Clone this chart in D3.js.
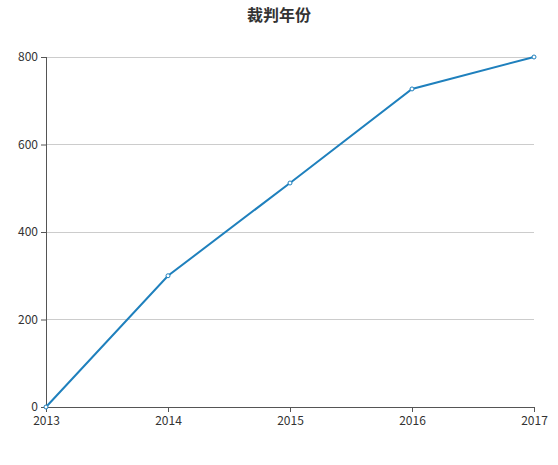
<!DOCTYPE html>
<html>
<head>
<meta charset="utf-8">
<script src="https://cdn.jsdelivr.net/npm/d3@7"></script>
<style>
  body { margin: 0; background: #fff; }
  text { font-family: "Noto Sans CJK SC", "DejaVu Sans", sans-serif; }
</style>
</head>
<body>
<div id="chart"></div>
<script>
// data
var years = ["2013", "2014", "2015", "2016", "2017"];
var counts = [0, 300, 512, 727, 800];
var yTicks = [0, 200, 400, 600, 800];

var width = 558, height = 465;
// plot area (note: "top" is reserved on window, so use plotTop)
var plotLeft = 46, plotRight = 534, plotTop = 57, plotBottom = 407;

var svg = d3.select("#chart").append("svg")
    .attr("width", width)
    .attr("height", height);

// title
svg.append("text")
    .attr("x", width / 2)
    .attr("y", 21)
    .attr("text-anchor", "middle")
    .attr("font-size", 16)
    .attr("font-weight", "bold")
    .attr("fill", "#333")
    .text("裁判年份");

var x = d3.scalePoint().domain(years).range([plotLeft, plotRight]);
var y = d3.scaleLinear().domain([0, 800]).range([plotBottom, plotTop]);

// grid lines
svg.append("g")
    .selectAll("line")
    .data(yTicks.slice(1))
    .enter().append("line")
    .attr("x1", plotLeft).attr("x2", plotRight)
    .attr("y1", function(d) { return y(d); })
    .attr("y2", function(d) { return y(d); })
    .attr("stroke", "#ccc")
    .attr("stroke-width", 1)
    .attr("shape-rendering", "crispEdges");

// axes
var yAxis = svg.append("g")
    .attr("transform", "translate(" + plotLeft + ",0)")
    .call(d3.axisLeft(y).tickValues(yTicks).tickSize(5).tickPadding(3));
var xAxis = svg.append("g")
    .attr("transform", "translate(0," + plotBottom + ")")
    .call(d3.axisBottom(x).tickSize(5).tickPadding(4));

[yAxis, xAxis].forEach(function(a) {
    a.select(".domain").attr("stroke", "#555");
    a.selectAll(".tick line").attr("stroke", "#555");
    a.selectAll(".tick text").attr("fill", "#333").attr("font-size", 12)
        .style("font-family", "'Noto Sans CJK SC', sans-serif");
});
xAxis.select(".domain").attr("d", "M" + plotLeft + ",0.5H" + plotRight);
yAxis.select(".domain").attr("d", "M0.5," + plotTop + "V" + plotBottom);

// line
var line = d3.line()
    .x(function(d, i) { return x(years[i]); })
    .y(function(d) { return y(d); });

svg.append("path")
    .datum(counts)
    .attr("d", line)
    .attr("fill", "none")
    .attr("stroke", "#1f80bd")
    .attr("stroke-width", 2);

svg.append("g")
    .selectAll("circle")
    .data(counts)
    .enter().append("circle")
    .attr("cx", function(d, i) { return x(years[i]); })
    .attr("cy", function(d) { return y(d); })
    .attr("r", 2)
    .attr("fill", "#fff")
    .attr("stroke", "#1f80bd")
    .attr("stroke-width", 1);
</script>
</body>
</html>
